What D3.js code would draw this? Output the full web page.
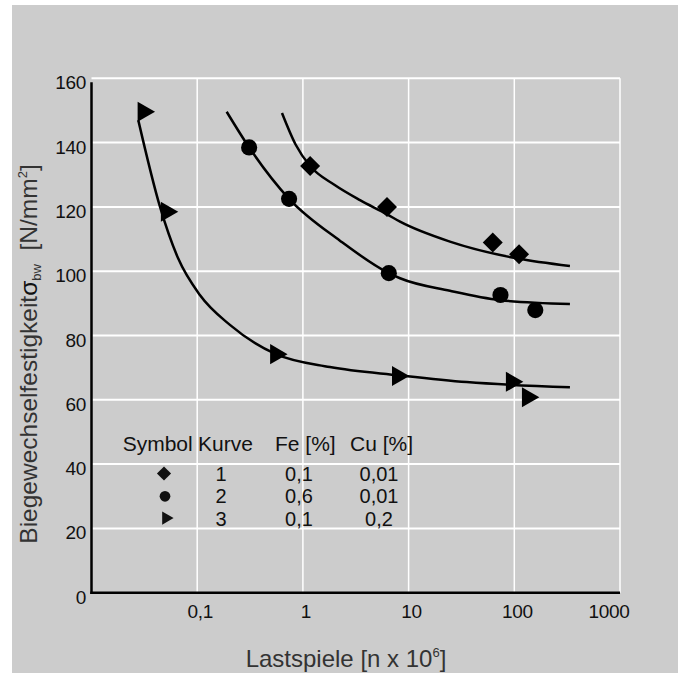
<!DOCTYPE html>
<html>
<head>
<meta charset="utf-8">
<script src="https://cdn.jsdelivr.net/npm/d3@7"></script>
<style>
  body { margin: 0; background: #fff; }
  svg { display: block; font-family: "Liberation Sans", Arial, Helvetica, sans-serif; }
</style>
</head>
<body>
<div id="chart"></div>
<script>
// tick values and labels
const xTicks = [0.1, 1, 10, 100, 1000];
const xTickLabels = ["0,1", "1", "10", "100", "1000"];
const yTicks = [0, 20, 40, 60, 80, 100, 120, 140, 160];

// measured points (Lastspiele in 10^6, stress in N/mm2)
const kurve1X = [1.17, 6.25, 62.5, 111];
const kurve1Y = [132.7, 120, 108.9, 105.3];
const kurve2X = [0.31, 0.74, 6.5, 74, 158];
const kurve2Y = [138.5, 122.5, 99.4, 92.6, 87.9];
const kurve3X = [0.031, 0.0514, 0.556, 7.9, 94.5, 134];
const kurve3Y = [149.6, 118.5, 74.2, 67.4, 65.6, 60.8];

// fitted curves
const fit1X = [0.634, 0.85, 1.17, 2.0, 3.47, 6.25, 8.3, 24.6, 105, 336];
const fit1Y = [149.2, 139.5, 132.7, 126.8, 122.1, 117.7, 115.4, 109.2, 104.0, 101.6];
const fit2X = [0.19, 0.31, 0.74, 2.24, 6.5, 8.3, 24.6, 73, 336];
const fit2Y = [149.6, 138.5, 122.5, 109.5, 99.4, 97.8, 93.9, 91.0, 89.8];
const fit3X = [0.0277, 0.0445, 0.066, 0.106, 0.204, 0.556, 1.8, 8.3, 35.5, 336];
const fit3Y = [147, 120, 104, 92.6, 83.3, 74.2, 70.2, 67.6, 65.5, 63.9];

// legend table
const legendHeader = ["Symbol", "Kurve", "Fe [%]", "Cu [%]"];
const legendKurve = ["1", "2", "3"];
const legendFe = ["0,1", "0,6", "0,1"];
const legendCu = ["0,01", "0,01", "0,2"];

const width = 685, height = 673;

const svg = d3.select("#chart").append("svg")
  .attr("width", width)
  .attr("height", height);

svg.append("rect")
  .attr("x", 12).attr("y", 5)
  .attr("width", 666).attr("height", height - 5)
  .attr("fill", "#cccccc");

const x = d3.scaleLog().domain([0.01, 1000]).range([91.5, 620]);
const y = d3.scaleLinear().domain([0, 160]).range([592.7, 78.3]);

// grid
svg.append("g").selectAll("line")
  .data(yTicks.filter(d => d > 0))
  .enter().append("line")
  .attr("x1", x(0.01)).attr("x2", x(1000))
  .attr("y1", d => y(d)).attr("y2", d => y(d))
  .attr("stroke", "#fff").attr("stroke-width", 2);

svg.append("g").selectAll("line")
  .data(xTicks)
  .enter().append("line")
  .attr("x1", d => x(d)).attr("x2", d => x(d))
  .attr("y1", y(160)).attr("y2", y(0))
  .attr("stroke", "#fff").attr("stroke-width", 1.5);

// axes
svg.append("line")
  .attr("x1", x(0.01)).attr("x2", x(0.01))
  .attr("y1", y(160) + 4).attr("y2", y(0) + 1.2)
  .attr("stroke", "#000").attr("stroke-width", 2.5);
svg.append("line")
  .attr("x1", x(0.01) - 1.2).attr("x2", x(1000))
  .attr("y1", y(0)).attr("y2", y(0))
  .attr("stroke", "#000").attr("stroke-width", 2.5);

// tick labels
svg.append("g").selectAll("text")
  .data(yTicks)
  .enter().append("text")
  .attr("x", 86)
  .attr("y", d => y(d) + 11)
  .attr("text-anchor", "end")
  .attr("font-size", 19)
  .attr("letter-spacing", -0.3)
  .attr("fill", "#111")
  .text(d => d);

svg.append("g").selectAll("text")
  .data(xTicks)
  .enter().append("text")
  .attr("x", d => x(d) + (d === 1000 ? -11 : 3))
  .attr("y", 618)
  .attr("text-anchor", "middle")
  .attr("font-size", 19)
  .attr("letter-spacing", -0.3)
  .attr("fill", "#111")
  .text((d, i) => xTickLabels[i]);

// axis titles
const xt = svg.append("text")
  .attr("x", 346).attr("y", 667)
  .attr("text-anchor", "middle")
  .attr("font-size", 24)
  .attr("fill", "#333");
xt.append("tspan").text("Lastspiele [n x 10");
xt.append("tspan").attr("font-size", 13).attr("dy", -10).text("6");
xt.append("tspan").attr("dy", 10).text("]");

const yt = svg.append("text")
  .attr("transform", "translate(37,354) rotate(-90)")
  .attr("text-anchor", "middle")
  .attr("font-size", 24.5)
  .attr("fill", "#333");
yt.append("tspan").text("Biegewechselfestigkeit");
yt.append("tspan").attr("fill", "#111").text("σ");
yt.append("tspan").attr("font-size", 13).attr("dy", 4).text("bw");
yt.append("tspan").attr("dy", -4).text("\u00a0 [N/mm");
yt.append("tspan").attr("font-size", 13).attr("dy", -10).text("2");
yt.append("tspan").attr("dy", 10).text("]");

// fitted curves
const line = d3.line()
  .x(d => x(d[0]))
  .y(d => y(d[1]))
  .curve(d3.curveMonotoneX);

[[fit1X, fit1Y], [fit2X, fit2Y], [fit3X, fit3Y]].forEach(([fx, fy]) => {
  svg.append("path")
    .datum(fx.map((v, i) => [v, fy[i]]))
    .attr("d", line)
    .attr("fill", "none")
    .attr("stroke", "#000")
    .attr("stroke-width", 2.5);
});

// markers
const diamond = d3.symbol().type(d3.symbolSquare);
const circle = d3.symbol().type(d3.symbolCircle);
const tri = d3.symbol().type(d3.symbolTriangle);

svg.append("g").selectAll("path")
  .data(kurve1X.map((v, i) => [v, kurve1Y[i]]))
  .enter().append("path")
  .attr("d", diamond.size(200)())
  .attr("transform", d => `translate(${x(d[0])},${y(d[1])}) rotate(45)`)
  .attr("fill", "#000");

svg.append("g").selectAll("path")
  .data(kurve2X.map((v, i) => [v, kurve2Y[i]]))
  .enter().append("path")
  .attr("d", circle.size(205)())
  .attr("transform", d => `translate(${x(d[0])},${y(d[1])})`)
  .attr("fill", "#000");

svg.append("g").selectAll("path")
  .data(kurve3X.map((v, i) => [v, kurve3Y[i]]))
  .enter().append("path")
  .attr("d", tri.size(175)())
  .attr("transform", d => `translate(${x(d[0])},${y(d[1])}) rotate(90)`)
  .attr("fill", "#000");

// legend table
const colX = [122.7, 198, 275, 350];
const headY = 451, rowY0 = 481, rowStep = 22.3;
const lg = svg.append("g").attr("font-size", 21).attr("fill", "#111");

lg.selectAll("text.h")
  .data(legendHeader)
  .enter().append("text")
  .attr("class", "h")
  .attr("x", (d, i) => colX[i])
  .attr("y", headY)
  .text(d => d);

const cols = [[legendKurve, 221], [legendFe, 299], [legendCu, 379]];
cols.forEach(([vals, cx]) => {
  lg.selectAll(null)
    .data(vals)
    .enter().append("text")
    .attr("x", cx)
    .attr("y", (d, i) => rowY0 + i * rowStep)
    .attr("text-anchor", "middle")
    .attr("font-size", 20)
    .text(d => d);
});

const symX = 164;
lg.append("path").attr("d", diamond.size(100)())
  .attr("transform", `translate(${symX},${rowY0 - 7.5}) rotate(45)`);
lg.append("path").attr("d", circle.size(90)())
  .attr("transform", `translate(${symX + 1},${rowY0 + rowStep - 7})`);
lg.append("path").attr("d", tri.size(75)())
  .attr("transform", `translate(${symX + 2},${rowY0 + 2 * rowStep - 7.5}) rotate(90)`);
</script>
</body>
</html>
